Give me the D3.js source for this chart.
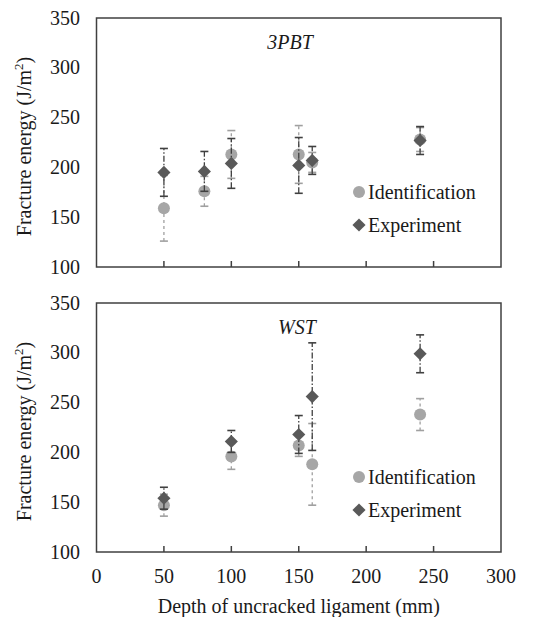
<!DOCTYPE html>
<html>
<head>
<meta charset="utf-8">
<script src="https://cdn.jsdelivr.net/npm/d3@7"></script>
<style>
  body { margin: 0; background: #fff; }
</style>
</head>
<body>
<svg id="chart" width="554" height="617"></svg>
<script>
// 3PBT panel
let depth3 = [50, 80, 100, 150, 160, 240];
let ident3 = [159, 176, 213, 213, 205, 228];
let identErr3 = [33, 15, 24, 29, 10, 12];
let exp3 = [195, 196, 204, 202, 207, 227];
let expErr3 = [24, 20, 25, 28, 14, 14];

// WST panel
let depthW = [50, 100, 150, 160, 240];
let identW = [147, 196, 207, 188, 238];
let identErrW = [11, 13, 11, 41, 16];
let expW = [154, 211, 218, 256, 299];
let expErrW = [11, 11, 19, 54, 19];

let xTicks = [0, 50, 100, 150, 200, 250, 300];
let yTicks = [100, 150, 200, 250, 300, 350];

const serif = "Liberation Serif";
let svg = d3.select("#chart");

function panel(top, name, depth, ident, identErr, exp, expErr, showX) {
  let left = 96.5, right = 501, h = 249;
  let x = d3.scaleLinear().domain([0, 300]).range([left, right]);
  let y = d3.scaleLinear().domain([100, 350]).range([top + h, top]);
  let g = svg.append("g").attr("fill", "#1a1a1a");

  // frame
  g.append("rect")
    .attr("x", left).attr("y", top)
    .attr("width", right - left).attr("height", h)
    .attr("fill", "none").attr("stroke", "#404040").attr("stroke-width", 1.5);

  // x ticks (inside)
  g.selectAll(".xt").data(xTicks.slice(1, -1)).enter().append("line")
    .attr("x1", d => x(d)).attr("x2", d => x(d))
    .attr("y1", top + h).attr("y2", top + h - 6)
    .attr("stroke", "#404040").attr("stroke-width", 1.5);

  if (showX) {
    g.selectAll(".xl").data(xTicks).enter().append("text")
      .attr("font-family", serif)
      .attr("x", d => x(d)).attr("y", top + h + 31)
      .attr("text-anchor", "middle").attr("font-size", 20)
      .text(d => d);
    g.append("text")
      .attr("font-family", serif)
      .attr("x", (left + right) / 2).attr("y", top + h + 61)
      .attr("text-anchor", "middle").attr("font-size", 20)
      .text("Depth of uncracked ligament (mm)");
  }

  g.selectAll(".yl").data(yTicks).enter().append("text")
    .attr("font-family", serif)
    .attr("x", 80).attr("y", d => y(d)).attr("dy", "0.33em")
    .attr("text-anchor", "end").attr("font-size", 20)
    .text(d => d);

  let yt = g.append("text")
    .attr("font-family", serif)
    .attr("transform", "translate(31," + (top + h / 2 + 4) + ") rotate(-90)")
    .attr("text-anchor", "middle").attr("font-size", 20);
  yt.append("tspan").text("Fracture energy (J/m");
  yt.append("tspan").attr("font-size", 13).attr("dy", -8).text("2");
  yt.append("tspan").attr("dy", 8).text(")");

  g.append("text")
    .attr("font-family", serif)
    .attr("x", name === "WST" ? 297 : 290).attr("y", top + 31)
    .attr("text-anchor", "middle").attr("font-size", 20).attr("font-style", "italic")
    .text(name);

  function errBars(vals, errs, color, dash) {
    let eg = g.append("g").attr("stroke", color).attr("stroke-width", 1.3);
    eg.selectAll(".v").data(vals).enter().append("line")
      .attr("x1", (d, i) => x(depth[i])).attr("x2", (d, i) => x(depth[i]))
      .attr("y1", (d, i) => y(d - errs[i])).attr("y2", (d, i) => y(d + errs[i]))
      .attr("stroke-dasharray", dash);
    [-1, 1].forEach(s => {
      eg.selectAll(".c").data(vals).enter().append("line")
        .attr("x1", (d, i) => x(depth[i]) - 4).attr("x2", (d, i) => x(depth[i]) + 4)
        .attr("y1", (d, i) => y(d + s * errs[i])).attr("y2", (d, i) => y(d + s * errs[i]))
        .attr("stroke-width", 1.6);
    });
  }

  errBars(ident, identErr, "#a0a0a0", "3,3");
  g.selectAll(".ic").data(ident).enter().append("circle")
    .attr("cx", (d, i) => x(depth[i])).attr("cy", d => y(d))
    .attr("r", 6).attr("fill", "#a6a6a6");

  errBars(exp, expErr, "#404040", "6,2,1.5,2");
  let diamond = d3.symbol().type(d3.symbolDiamond2).size(110);
  g.selectAll(".ed").data(exp).enter().append("path")
    .attr("d", diamond)
    .attr("transform", (d, i) => "translate(" + x(depth[i]) + "," + y(d) + ")")
    .attr("fill", "#595959");

  // legend
  let lg = g.append("g");
  lg.append("circle").attr("cx", 359).attr("cy", top + 174).attr("r", 6).attr("fill", "#a6a6a6");
  lg.append("text").attr("font-family", serif)
    .attr("x", 368).attr("y", top + 181).attr("font-size", 20).text("Identification");
  lg.append("path").attr("d", diamond)
    .attr("transform", "translate(359," + (top + 207) + ")").attr("fill", "#595959");
  lg.append("text").attr("font-family", serif)
    .attr("x", 368).attr("y", top + 214).attr("font-size", 20).text("Experiment");
}

panel(18, "3PBT", depth3, ident3, identErr3, exp3, expErr3, false);
panel(303, "WST", depthW, identW, identErrW, expW, expErrW, true);
</script>
</body>
</html>
